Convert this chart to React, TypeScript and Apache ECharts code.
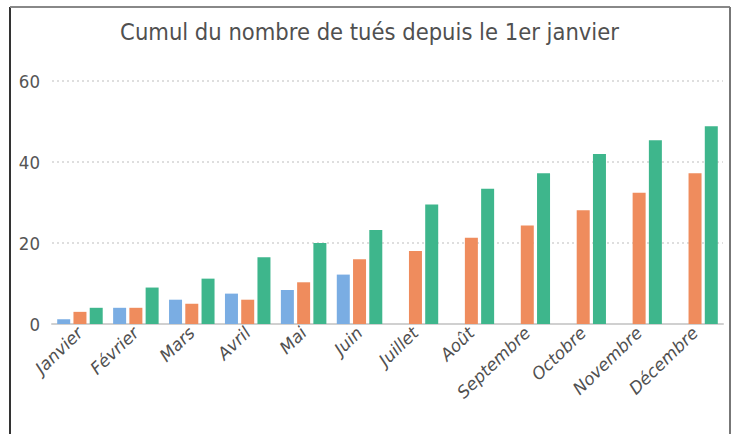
import React, { useEffect, useRef } from "react";
import * as echarts from "echarts";

const categories = ["Janvier", "Février", "Mars", "Avril", "Mai", "Juin", "Juillet", "Août", "Septembre", "Octobre", "Novembre", "Décembre"];
const serieBleue = [1.2, 4, 6, 7.5, 8.4, 12.2, null, null, null, null, null, null];
const serieOrange = [3, 4, 5, 6, 10.3, 16, 18, 21.3, 24.3, 28.1, 32.4, 37.2];
const serieVerte = [4, 9, 11.2, 16.5, 20, 23.2, 29.5, 33.4, 37.2, 42, 45.4, 48.8];
const yTicks = [0, 20, 40, 60];

export default function App() {
  const ref = useRef<HTMLDivElement>(null);
  useEffect(() => {
    if (!ref.current) return;
    const chart = echarts.init(ref.current, null, { renderer: "svg" });
    const barBase = { type: "bar" as const, barWidth: 13, barGap: "25%" };
    chart.setOption({
      animation: false,
      backgroundColor: "#fff",
      title: {
        text: "Cumul du nombre de tués depuis le 1er janvier",
        left: "center",
        top: 15,
        textStyle: { fontFamily: "'DejaVu Sans Condensed', 'DejaVu Sans', sans-serif", fontWeight: "normal", fontSize: 23.5, color: "#505050" },
      },
      graphic: [
        { type: "line", shape: { x1: 10, y1: 7, x2: 10, y2: 434 }, style: { stroke: "#333", lineWidth: 2 } },
        { type: "line", shape: { x1: 10, y1: 7, x2: 730, y2: 7 }, style: { stroke: "#888", lineWidth: 2 } },
        { type: "line", shape: { x1: 730, y1: 7, x2: 730, y2: 434 }, style: { stroke: "#777", lineWidth: 2 } },
      ],
      grid: { left: 52, right: 16, top: 81, bottom: 110, containLabel: false },
      xAxis: {
        type: "category",
        data: categories,
        axisLine: { lineStyle: { color: "#d0d0d0", width: 2 } },
        axisTick: { alignWithLabel: false, length: 8, lineStyle: { color: "#d0d0d0" } },
        axisLabel: { rotate: 44, interval: 0, fontStyle: "italic", fontSize: 17, color: "#505050", fontFamily: "'DejaVu Sans', sans-serif", margin: 6 },
      },
      yAxis: {
        type: "value",
        min: yTicks[0],
        max: yTicks[yTicks.length - 1],
        interval: 20,
        axisLine: { show: false },
        axisTick: { show: false },
        axisLabel: { fontSize: 18.5, color: "#555", margin: 12, fontFamily: "'DejaVu Sans Condensed', 'DejaVu Sans', sans-serif" },
        splitLine: { lineStyle: { type: [2, 3], color: "#d4d4d4", width: 1.5 } },
      },
      series: [
        { ...barBase, name: "A", data: serieBleue, itemStyle: { color: "#7aade3" } },
        { ...barBase, name: "B", data: serieOrange, itemStyle: { color: "#ef8c5d" } },
        { ...barBase, name: "C", data: serieVerte, itemStyle: { color: "#3eb68c" } },
      ],
    });
    return () => chart.dispose();
  }, []);
  return <div ref={ref} style={{ width: 739, height: 434, position: "absolute", left: 0, top: 0 }} />;
}
